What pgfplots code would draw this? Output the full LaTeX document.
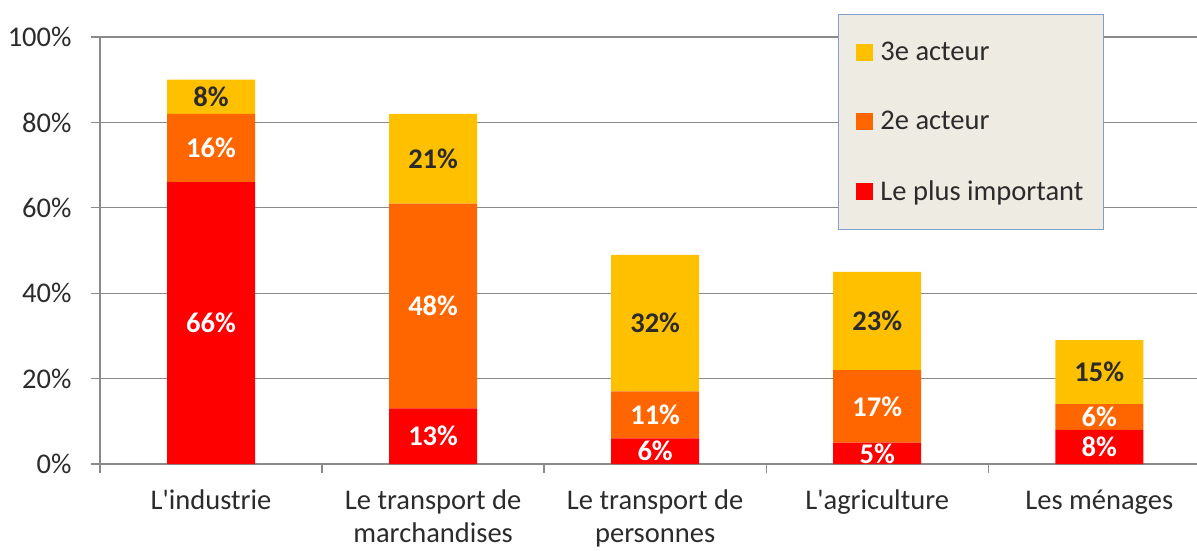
\documentclass[border=0pt]{standalone}
\usepackage{fontspec}
\setmainfont{Carlito}
\usepackage{pgfplots}
\pgfplotsset{compat=1.18}
\definecolor{cRed}{HTML}{FF0000}
\definecolor{cOrange}{HTML}{FF6600}
\definecolor{cYellow}{HTML}{FFC000}
\definecolor{cGrid}{HTML}{8A8A8A}
\definecolor{cText}{HTML}{2B2B2B}
\definecolor{cLegBg}{HTML}{EDEBE2}
\definecolor{cLegBd}{HTML}{7FA0CC}
\pgfplotsset{
  common/.style={
    width=1097pt, height=427pt, scale only axis,
    xmin=-0.5, xmax=4.44, ymin=0, ymax=100,
  }
}
\begin{document}
\begin{tikzpicture}
\begin{axis}[common, name=main,
  ybar stacked, bar width=88pt,
  axis x line*=bottom, axis y line*=left,
  axis line style={cGrid, line width=1.3pt, -},
  ymajorgrids, grid style={cGrid, line width=1.3pt},
  ytick={0,20,40,60,80,100},
  yticklabels={0\%,20\%,40\%,60\%,80\%,100\%},
  xtick={0,1,2,3,4},
  xticklabels={L\textquotesingle industrie, Le transport de\\marchandises, Le transport de\\personnes, L\textquotesingle agriculture, Les ménages},
  xticklabel style={align=center, text=cText, font=\fontsize{28.5}{33.5}\selectfont, yshift=-13pt},
  yticklabel style={text=cText, font=\fontsize{28.5}{32}\selectfont, xshift=-16pt},
  minor xtick={-0.5,0.5,1.5,2.5,3.5},
  tick align=outside,
  major x tick style={draw=none},
  minor x tick style={cGrid, line width=1.3pt},
  y tick style={cGrid, line width=1.3pt},
  major tick length=9pt, minor tick length=9pt,
  reverse legend,
  legend image code/.code={\fill[#1] (0pt,-8.5pt) rectangle (17pt,8.5pt); \path (22pt,0pt);},
  legend cell align=left,
  legend style={at={(0.6727,1.0539)}, anchor=north west, fill=cLegBg, draw=cLegBd, line width=1pt,
    inner xsep=18pt, inner ysep=26pt, row sep=45pt, text=cText,
    font=\fontsize{28.5}{32}\selectfont},
]
\addplot[fill=cRed, draw=none] coordinates {(0,66) (1,13) (2,6) (3,5) (4,8)};
\addlegendentry{Le plus important}
\addplot[fill=cOrange, draw=none] coordinates {(0,16) (1,48) (2,11) (3,17) (4,6)};
\addlegendentry{2e acteur}
\addplot[fill=cYellow, draw=none] coordinates {(0,8) (1,21) (2,32) (3,23) (4,15)};
\addlegendentry{3e acteur}
\end{axis}
\begin{axis}[common, hide axis]
\addplot[draw=none, nodes near coords, point meta=explicit symbolic,
  nodes near coords style={anchor=center, text=white, font=\fontsize{28.5}{32}\selectfont\bfseries}]
  coordinates {(0,33) [66\%] (1,6.5) [13\%] (2,3) [6\%] (3,2.5) [5\%] (4,4) [8\%]
               (0,74) [16\%] (1,37) [48\%] (2,11.5) [11\%] (3,13.5) [17\%] (4,11) [6\%]};
\addplot[draw=none, nodes near coords, point meta=explicit symbolic,
  nodes near coords style={anchor=center, text=cText, font=\fontsize{28.5}{32}\selectfont\bfseries}]
  coordinates {(0,86) [8\%] (1,71.5) [21\%] (2,33) [32\%] (3,33.5) [23\%] (4,21.5) [15\%]};
\end{axis}
\pgfresetboundingbox
\path[use as bounding box] (main.south west) ++(-100pt,-86pt) rectangle ++(1197pt,550pt);
\end{tikzpicture}
\end{document}
